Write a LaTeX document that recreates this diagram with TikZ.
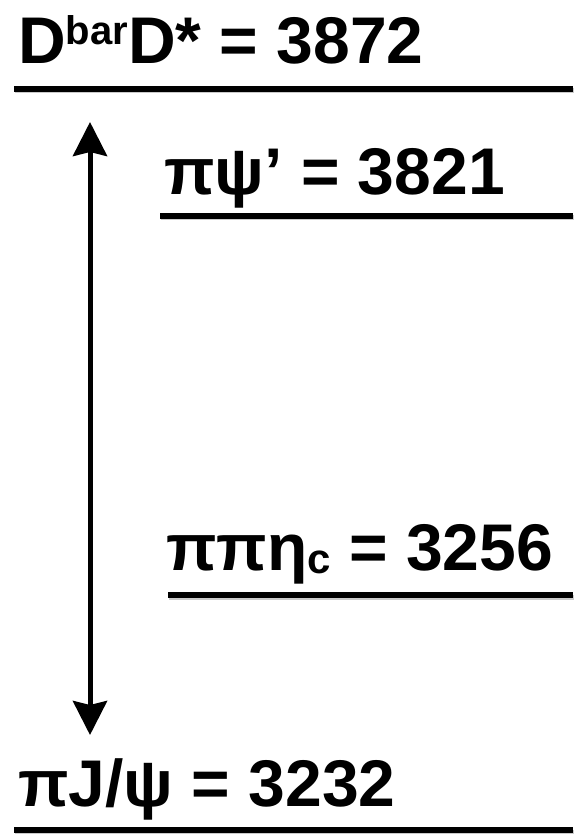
\documentclass[tikz,border=0pt]{standalone}
\usepackage{fontspec}
\setmainfont{Liberation Sans}
\usetikzlibrary{arrows.meta,calc,positioning}
\definecolor{LevelShadow}{RGB}{150,150,150}
\newcommand{\supbar}{\raisebox{19pt}{\fontsize{40}{44}\selectfont bar}}
\newcommand{\subc}{\raisebox{-3pt}{\fontsize{42}{44}\selectfont c}}

\begin{document}
\begin{tikzpicture}[x=1pt, y=-1pt, >={Stealth[length=34pt,width=34pt,inset=4pt]}]
    \tikzstyle{lbl}=[anchor=base west, inner sep=0pt, font=\fontsize{66}{74}\selectfont\bfseries]
    \tikzstyle{lvl}=[line width=5.5pt]
    \tikzstyle{shade}=[line width=5pt, LevelShadow, opacity=0.5]

    \useasboundingbox (0,0) rectangle (573,834);

    % levels
    \coordinate (ddL) at (14,89);   \coordinate (ddR) at (573,89);
    \coordinate (psL) at (160,216); \coordinate (psR) at (573,216);
    \coordinate (etL) at (168,595); \coordinate (etR) at (573,595);
    \coordinate (jpL) at (14,830);  \coordinate (jpR) at (573,830);

    \foreach \a/\b in {ddL/ddR, psL/psR, etL/etR, jpL/jpR}
        \draw[shade] ($(\a)+(1,2)$) -- ($(\b)+(1,2)$);
    \foreach \a/\b in {ddL/ddR, psL/psR, etL/etR, jpL/jpR}
        \draw[lvl] (\a) -- (\b);

    \node[lbl] (dd) at (18,64) {D\supbar D* = 3872};
    \node[lbl] (ps) at (164,195) {πψ’ = 3821};
    \node[lbl] (et) at (166,570) {ππη\subc{} = 3256};
    \node[lbl] (jp) at (18,806) {πJ/ψ = 3232};

    % gap between the thresholds
    \coordinate (up) at (90,122);
    \coordinate (dn) at (90,735);
    \draw[<->, line width=5pt] (up) -- (dn);
\end{tikzpicture}
\end{document}
